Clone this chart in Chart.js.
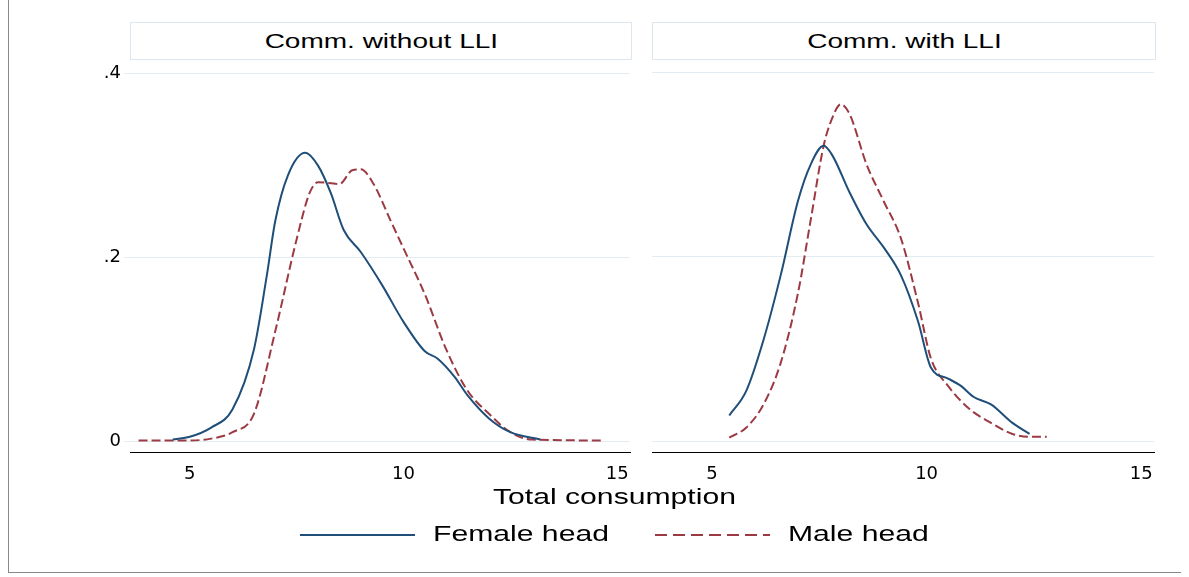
<!DOCTYPE html>
<html><head>
<script src="https://cdn.jsdelivr.net/npm/chart.js@4"></script>
<style>
body{margin:0;width:1189px;height:577px;background:#fff;font-family:"Liberation Sans",Arial,sans-serif;position:relative;overflow:hidden}
.frame{position:absolute;left:8px;top:0;width:1172px;height:572px;border-left:1px solid #888;border-bottom:1px solid #888}
.hdr{position:absolute;top:22px;height:36px;border:1px solid #dde8ee;background:#fff;text-align:center;line-height:36px;font-size:20px;color:#000}
.hdr span{display:inline-block;transform:scaleX(1.4)}
.box{position:absolute;top:48px;height:440px}
.lab{position:absolute;font-size:22px;color:#000;transform:scaleX(1.37);transform-origin:left center;white-space:nowrap}
</style></head><body>
<div class="frame"></div>
<div class="hdr" style="left:130px;width:500px"><span>Comm. without LLI</span></div>
<div class="hdr" style="left:652px;width:502px"><span>Comm. with LLI</span></div>
<div class="box" style="left:70px;width:562px"><canvas id="c1"></canvas></div>
<div class="box" style="left:652px;width:504px"><canvas id="c2"></canvas></div>
<div class="lab" style="left:493px;top:484px">Total consumption</div>
<div style="position:absolute;left:300px;top:534px;width:115px;border-top:2px solid #1f4e79"></div>
<div class="lab" style="left:433px;top:521px">Female head</div>
<div style="position:absolute;left:655px;top:534px;width:115px;height:2px;background:repeating-linear-gradient(90deg,#9c3a44 0 12px,transparent 12px 18px)"></div>
<div class="lab" style="left:788px;top:521px">Male head</div>
<script>
const femaleLeftX = [4.6,5,5.5,6,6.5,6.8,7,7.3,7.7,8,8.3,8.6,9,9.5,10,10.5,10.8,11.2,11.5,12,12.5,13.2];
const femaleLeftY = [0.002,0.005,0.015,0.035,0.1,0.18,0.24,0.29,0.314,0.3,0.27,0.23,0.206,0.17,0.13,0.098,0.09,0.07,0.05,0.025,0.01,0.002];
const maleLeftX = [3.8,5,5.5,6,6.5,7,7.5,7.8,8,8.5,8.8,9,9.3,9.7,10,10.5,11,11.5,12,12.5,13,14.7];
const maleLeftY = [0.001,0.001,0.003,0.01,0.03,0.12,0.22,0.27,0.282,0.28,0.295,0.296,0.28,0.24,0.21,0.16,0.1,0.055,0.03,0.01,0.002,0.001];
const femaleRightX = [5.4,5.8,6.2,6.6,7,7.3,7.6,7.8,8.2,8.6,9,9.4,9.8,10.1,10.5,10.8,11.1,11.5,12,12.4];
const femaleRightY = [0.028,0.055,0.11,0.18,0.26,0.3,0.32,0.31,0.27,0.235,0.21,0.18,0.13,0.08,0.068,0.06,0.048,0.04,0.02,0.008];
const maleRightX = [5.4,5.8,6.2,6.6,7,7.3,7.6,7.8,8,8.2,8.6,9,9.4,9.8,10.1,10.5,11,11.5,12,12.4,12.8];
const maleRightY = [0.004,0.015,0.04,0.085,0.16,0.24,0.32,0.35,0.365,0.355,0.3,0.26,0.22,0.15,0.09,0.06,0.035,0.02,0.008,0.005,0.005];
const xTicks = [5,10,15];
const yTicks = [0,0.2,0.4];
const yLabels = ['0','.2','.4'];

const pts = (xs, ys) => xs.map((x, i) => ({x, y: ys[i]}));

function make(id, fx, fy, mx, my, showY) {
  new Chart(document.getElementById(id), {
    type: 'line',
    data: { datasets: [
      { data: pts(fx, fy), borderColor: '#1f4e79', borderWidth: 2, pointRadius: 0, cubicInterpolationMode: 'monotone' },
      { data: pts(mx, my), borderColor: '#9c3a44', borderWidth: 2, borderDash: [9, 4], pointRadius: 0, cubicInterpolationMode: 'monotone' }
    ]},
    options: {
      responsive: true, maintainAspectRatio: false, animation: false,
      layout: { padding: { top: 12, right: 2 } },
      plugins: { legend: { display: false }, tooltip: { enabled: false } },
      scales: {
        x: { type: 'linear', min: 3.6, max: 15.3,
          afterBuildTicks: s => { s.ticks = xTicks.map(v => ({value: v})); },
          grid: { display: false, drawTicks: true }, border: { color: '#000' },
          ticks: { color: '#000', font: { size: 18, family: 'DejaVu Sans' } } },
        y: { min: -0.012, max: 0.413, display: true,
          afterBuildTicks: s => { s.ticks = yTicks.map(v => ({value: v})); },
          afterFit: s => { s.width = showY ? 60 : 0; },
          grid: { color: '#e3ecf0', drawTicks: showY, tickLength: 6 },
          border: { display: false },
          ticks: { display: showY, color: '#000', font: { size: 18, family: 'DejaVu Sans' },
            callback: v => yLabels[yTicks.indexOf(v)] } }
      }
    }
  });
}
make('c1', femaleLeftX, femaleLeftY, maleLeftX, maleLeftY, true);
make('c2', femaleRightX, femaleRightY, maleRightX, maleRightY, false);
</script>
</body></html>
